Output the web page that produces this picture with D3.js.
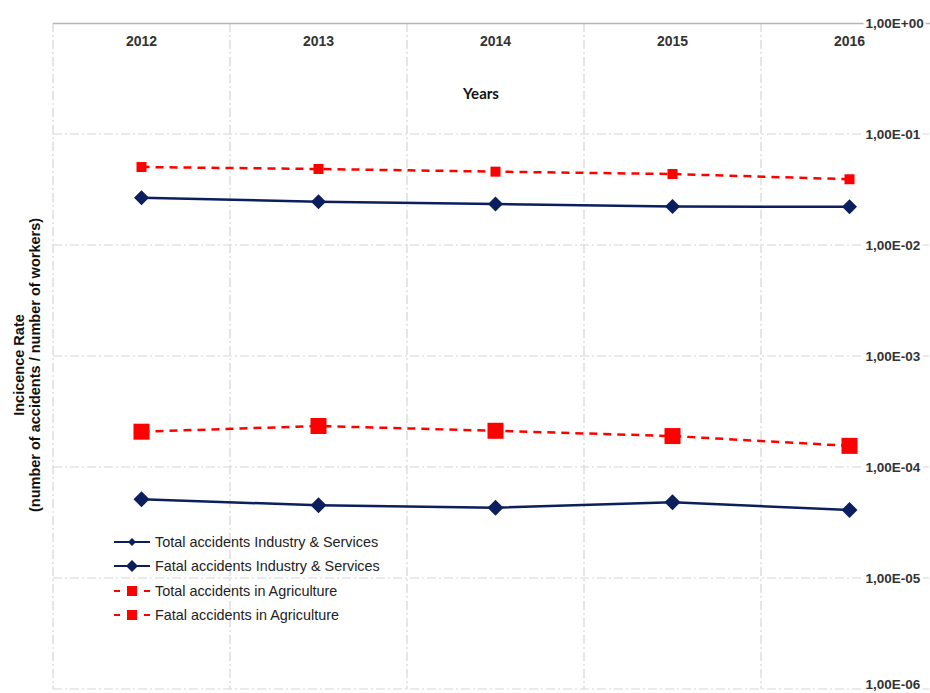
<!DOCTYPE html>
<html>
<head>
<meta charset="utf-8">
<script src="https://cdn.jsdelivr.net/npm/d3@7"></script>
<style>
  html, body { margin: 0; padding: 0; background: #fff; }
  svg { display: block; }
</style>
</head>
<body>
<svg id="chart" width="930" height="693"></svg>
<script>
// Incidence rates of workplace accidents, 2012–2016
const years = ["2012", "2013", "2014", "2015", "2016"];
const totalIndustry = [0.0267, 0.0245, 0.0234, 0.0222, 0.0221];
const fatalIndustry = [5.12e-5, 4.52e-5, 4.30e-5, 4.81e-5, 4.10e-5];
const totalAgriculture = [0.0504, 0.0484, 0.0458, 0.0436, 0.0391];
const fatalAgriculture = [2.08e-4, 2.34e-4, 2.12e-4, 1.90e-4, 1.55e-4];
const yTicks = [1, 1e-1, 1e-2, 1e-3, 1e-4, 1e-5, 1e-6];
const legendLabels = [
  "Total accidents Industry & Services",
  "Fatal accidents Industry & Services",
  "Total accidents in Agriculture",
  "Fatal accidents in Agriculture"
];

const NAVY = "#0b1f5e", RED = "#ff0000", GRID = "#d6d6d6";
const svg = d3.select("#chart");

const plotLeft = 53, plotTop = 23, plotBottom = 689, band = 177;
const x = d3.scaleBand().domain(years).range([plotLeft, plotLeft + band * years.length]);
const xc = d => x(d) + x.bandwidth() / 2;
const y = d3.scaleLog().domain([1e-6, 1]).range([plotBottom, plotTop]);

// gridlines
const grid = svg.append("g");
yTicks.slice(1).forEach(v => {
  grid.append("line")
    .attr("x1", plotLeft).attr("x2", 930)
    .attr("y1", y(v)).attr("y2", y(v))
    .attr("stroke", GRID).attr("stroke-width", 1.2)
    .attr("stroke-dasharray", "9,3,2,3");
});
years.forEach(yr => {
  grid.append("line")
    .attr("x1", x(yr)).attr("x2", x(yr))
    .attr("y1", plotTop).attr("y2", plotBottom)
    .attr("stroke", GRID).attr("stroke-width", 1.2)
    .attr("stroke-dasharray", "9,3,2,3");
});

// category axis along the top, labels inside the plot
const xAxis = svg.append("g")
  .attr("transform", `translate(0,${plotTop})`)
  .call(d3.axisBottom(x).tickSize(0).tickPadding(13));
xAxis.select(".domain").attr("stroke", "#b5b5b5").attr("stroke-width", 1.5)
  .attr("d", `M${plotLeft},0.5H930`);
xAxis.selectAll("text")
  .attr("font-family", "Liberation Sans, Arial, sans-serif")
  .attr("font-weight", "bold").attr("font-size", 14).attr("fill", "#333");

svg.append("text")
  .attr("x", 481).attr("y", 99)
  .attr("text-anchor", "middle")
  .attr("font-family", "Lato, 'Open Sans', sans-serif")
  .attr("font-weight", "bold").attr("font-size", 15).attr("fill", "#111")
  .text("Years");

// value axis on the right
const fmt = v => {
  const e = Math.round(Math.log10(v));
  const s = e < 0 ? "-" : "+";
  return "1,00E" + s + String(Math.abs(e)).padStart(2, "0");
};
const yAxis = svg.append("g")
  .attr("transform", `translate(${xc("2016")},0)`)
  .call(d3.axisRight(y).tickValues(yTicks).tickFormat(fmt).tickSize(0).tickPadding(16));
yAxis.select(".domain").remove();
yAxis.selectAll(".tick").each(function(d) {
  const g = d3.select(this);
  const t = g.select("text")
    .attr("font-family", "Liberation Sans, Arial, sans-serif")
    .attr("font-weight", "bold").attr("font-size", 13.5).attr("fill", "#333");
  // keep the lowest label inside the canvas
  if (d === 1e-6) t.attr("dy", "-0.05em");
  const bb = t.node().getBBox();
  g.insert("rect", "text")
    .attr("x", bb.x - 2).attr("y", bb.y + 2).attr("width", bb.width + 4).attr("height", bb.height - 4)
    .attr("fill", "#fff");
});

// y title
const yt = svg.append("text")
  .attr("transform", "translate(0,365) rotate(-90)")
  .attr("text-anchor", "middle")
  .attr("font-family", "Liberation Sans, Arial, sans-serif")
  .attr("font-weight", "bold").attr("font-size", 14.5).attr("fill", "#111");
yt.append("tspan").attr("x", 0).attr("y", 24).text("Incicence Rate");
yt.append("tspan").attr("x", 0).attr("y", 40).text("(number of accidents / number of workers)");

// series
const series = [
  { values: totalIndustry, color: NAVY, dash: null, shape: "diamond", size: 15, legSize: 8 },
  { values: fatalIndustry, color: NAVY, dash: null, shape: "diamond", size: 16, legSize: 12 },
  { values: totalAgriculture, color: RED, dash: "8,6", shape: "square", size: 10, legSize: 10 },
  { values: fatalAgriculture, color: RED, dash: "8,6", shape: "square", size: 16, legSize: 10 }
];
const line = d3.line().x((d, i) => xc(years[i])).y(d => y(d));

function marker(g, shape, size, cx, cy, color) {
  if (shape === "diamond") {
    const h = size / 2;
    g.append("path")
      .attr("d", `M${cx},${cy - h}L${cx + h},${cy}L${cx},${cy + h}L${cx - h},${cy}Z`)
      .attr("fill", color);
  } else {
    g.append("rect")
      .attr("x", cx - size / 2).attr("y", cy - size / 2)
      .attr("width", size).attr("height", size)
      .attr("fill", color);
  }
}

series.forEach(s => {
  const g = svg.append("g");
  g.append("path")
    .datum(s.values)
    .attr("d", line)
    .attr("fill", "none")
    .attr("stroke", s.color).attr("stroke-width", 2.5)
    .attr("stroke-dasharray", s.dash);
  s.values.forEach((v, i) => marker(g, s.shape, s.size, xc(years[i]), y(v), s.color));
});

// legend
const legY = [542, 566, 591, 615];
series.forEach((s, i) => {
  const g = svg.append("g");
  const cy = legY[i];
  g.append("line")
    .attr("x1", 114).attr("x2", 150).attr("y1", cy).attr("y2", cy)
    .attr("stroke", s.color).attr("stroke-width", 2.2)
    .attr("stroke-dasharray", s.dash ? "6,7,10,7,6" : null);
  marker(g, s.shape, s.legSize, 132, cy, s.color);
  g.append("text")
    .attr("x", 155).attr("y", cy + 5)
    .attr("font-family", "Liberation Sans, Arial, sans-serif")
    .attr("font-size", 14.4).attr("fill", "#222")
    .text(legendLabels[i]);
});
</script>
</body>
</html>
